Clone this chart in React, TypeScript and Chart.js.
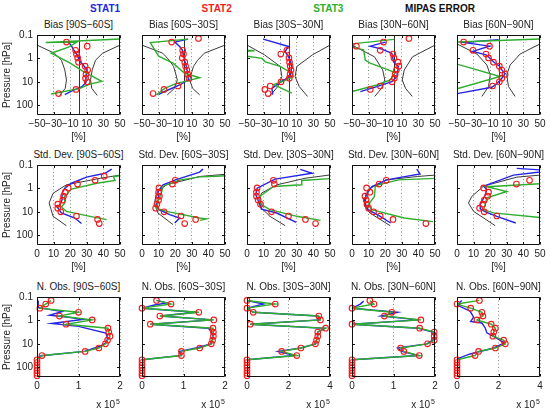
import React, { useEffect, useRef } from "react";
import { Chart, registerables } from "chart.js";

Chart.register(...registerables);

const FONT = '"Liberation Sans", Arial, Helvetica, sans-serif';
Chart.defaults.font.family = FONT;
Chart.defaults.font.size = 10;
Chart.defaults.color = "#222";

const BLUE = "#2424e6";
const RED = "#f01c1c";
const GREEN = "#2eae2e";
const BLACK = "#3a3a3a";

// ---------- shared axes / categories ----------
const LEVELS = [0.14, 0.2, 0.3, 0.45, 0.65, 0.95, 1.45, 2.15, 3.15, 4.7, 7, 10, 15, 21, 31.5, 48, 63, 82, 106, 137, 178, 230];
const BANDS = ["90S\u221260S", "60S\u221230S", "30S\u221230N", "30N\u221260N", "60N\u221290N"];
const ROW_NAMES = ["Bias", "Std. Dev.", "N. Obs."];
const BIAS_TICKS = [-50, -30, -10, 10, 30, 50];
const STD_TICKS = [0, 10, 20, 30, 40, 50];
const NOBS_TICKS_2 = [0, 1, 2];
const NOBS_TICKS_4 = [0, 2, 4];
const P_TICKS = [0.1, 1, 10, 100];
const P_MIN = 0.1;
const P_MAX = 260;
const LEGEND = [
  { text: "STAT1", color: BLUE },
  { text: "STAT2", color: RED },
  { text: "STAT3", color: GREEN },
  { text: "MIPAS ERROR", color: "#111" },
];

type Pt = [number, number] | null; // [value, pressure]
type Err = [number, number]; // [pressure, error]

// ---------- Bias [%] ----------
const bias1Red = [null, -14.5, 10.5, -3.5, -2.5, -1, 0, 8, 11, 9, 8.5, 10.5, null, -3, -24];
const bias1Blue: Pt[] = [[-12.5, 0.19], [-8.5, 0.29], [-5.6, 0.44], [-1.6, 0.71], [0.8, 1.17], [5.6, 1.91], [10.5, 3.1], [8.9, 6], [8.9, 10.9], [3.6, 16.5], [-8.5, 25], [-16.5, 35]];
const bias1Green: Pt[] = [[55, 0.145], [-39.5, 0.21], [-2, 0.2], [-12, 0.33], [-33, 0.6], [-10, 1.6], [5, 3.5], [28, 9.5], [12, 13], [2, 19], [-33, 33]];
const bias1Err: Err[] = [[0.15, 70], [0.27, 50], [0.6, 29], [1.2, 20.5], [3.1, 16.5], [8.3, 14.5], [19, 16], [38, 22.6]];

const bias2Red = [18, -14.3, null, -1, 0, -1.5, 1.5, 2.5, 4, 5, 6.5, null, -6.6, -23.5, -36.7];
const bias2Blue: Pt[] = [[5.5, 0.15], [-10.6, 0.2], [-4.6, 0.31], [-1.4, 0.44], [0.2, 0.84], [3.4, 2.25], [5.4, 5.1], [5.8, 8.3], [-4.6, 13.6], [-20.7, 24], [-30, 34]];
const bias2Green: Pt[] = [[5.5, 0.15], [-40, 0.21], [-30, 0.8], [-12.6, 1.6], [1.4, 4.3], [19.5, 6.7], [3.4, 9.3], [-8.6, 11.6], [-22.6, 18.9], [-32.6, 36]];
const bias2Err: Err[] = [[0.2, 65], [0.27, 50], [0.6, 25], [1.2, 17], [2.2, 12], [5, 9], [8.3, 7.5], [19, 11], [36, 19.5]];

const bias3Red = [null, null, null, -2, -9.3, 0.5, 1.2, 2, 3, 2, 1, -9, -22, -28.5, -24.5];
const bias3Blue: Pt[] = [[-30.5, 0.15], [0, 0.31], [-4, 0.5], [2, 1.17], [4, 2.25], [2, 6], [-8, 9.3], [-20, 18.9], [-19, 35]];
const bias3Green: Pt[] = [[-60, 0.42], [-41, 0.47], [-60, 0.52], null, [-51, 0.8], [-32, 1.0], [-28, 1.4], [-10, 2.2], [4, 4.3], [6, 6], [-6, 9.3], [-18, 13], [4, 30]];
const bias3Err: Err[] = [[0.2, 65], [0.27, 50], [0.7, 29], [2.2, 10], [6, 8], [16, 13], [42, 23]];

const bias4Red = [18.6, -12, -44.7, -16, -0.6, 0.5, 5.5, 6.5, 3.5, 2, 1, -1.8, -16, -28, null];
const bias4Blue: Pt[] = [[-10, 0.2], [-28, 0.3], [-14, 0.4], [-2, 0.6], [0, 1.37], [6, 2.25], [4, 6], [-2, 9.8], [-20, 16], [-40, 26]];
const bias4Green: Pt[] = [[-60, 0.26], [0.5, 0.153], null, [-55, 0.3], [-36, 0.43], [-34, 1.17], [-28, 1.6], [-12, 2.6], [2, 4], [-4, 8.3], [-20, 13.6], [-50, 26]];
const bias4Err: Err[] = [[0.2, 65], [0.27, 50], [0.85, 23], [3.1, 13], [8.3, 10.5], [19, 14.5], [42, 22.6]];

const bias5Red = [null, -42, -10.8, -30.8, -15, -12, -6, 1, 4, 8, 4, 1, -7.2, null, null];
const bias5Blue: Pt[] = [[0, 0.158], [-42, 0.21], [-11, 0.3], [-31, 0.5], [-15, 0.7], [-10, 1.0], [-5, 1.5], [1, 2.1], [4, 3.1], [8, 4.5], [4, 7], [-2, 12], [-8, 17], [-50, 32]];
const bias5Green: Pt[] = [[-50, 0.2], [50, 0.148], null, [-50, 1.75], [2, 5.9], [-50, 19.8]];
const bias5Err: Err[] = [[0.2, 60], [0.24, 50], [0.65, 26], [1.9, 14], [5, 10], [15.8, 12], [42, 20]];

// ---------- Std. Dev. [%] ----------
const std1Red = [null, null, 40.5, 35, 24.4, 18.8, 17, 16, 15.5, 12.5, 12.5, 14.3, 23.8, 36.5, 37.5];
const std1Blue: Pt[] = [[45, 0.15], [41, 0.226], [29.8, 0.33], [20.8, 0.6], [16.7, 0.98], [15.1, 1.6], [15.1, 3.05], [13.7, 5], [12.1, 6.2], [14.7, 11.2], [22.8, 18.3], [26.8, 31.6]];
const std1Green: Pt[] = [[55, 0.26], [46, 0.31], [47, 0.46], [36, 0.6], [20.8, 1.07], [16.7, 2.2], [16.7, 4.2], [14.7, 6.2], [17.7, 9.5], [31.9, 15.5], [42, 21.5]];
const std1Err: Err[] = [[0.22, 60], [0.27, 50], [0.37, 38], [0.7, 17.7], [1.6, 9.7], [4.2, 7.3], [15.5, 9.7], [39, 17.7]];

const std2Red = [null, null, null, 20, 18.3, 10.2, 10, 10.5, 10, 9, 8.2, 13.3, 23.5, 32.3, 25.7];
const std2Blue: Pt[] = [[36.7, 0.15], [34.7, 0.2], [20.7, 0.42], [12.7, 0.7], [9.6, 1.35], [10.2, 2.6], [8.6, 4.96], [10.2, 8.1], [16.7, 13.2], [22.7, 18.3], [19.7, 29.8]];
const std2Green: Pt[] = [[55, 0.28], [44.8, 0.3], [34.7, 0.32], [22.7, 0.44], [12.7, 0.8], [11.6, 1.6], [9.6, 3.6], [8.6, 6.9], [14.7, 9.5], [34.7, 18.3], [38.8, 20], [35, 23]];
const std2Err: Err[] = [[0.2, 65], [0.25, 50], [0.31, 34.7], [0.7, 14.7], [1.6, 8.6], [4.2, 7.6], [11.2, 9.6], [35, 18.7]];

const std3Red = [null, null, null, 15.9, 16.5, 6.1, 5.7, 5.7, 6.7, 8.1, null, 14.8, 25, 35.2, 41.3];
const std3Blue: Pt[] = [[32.1, 0.153], [39.2, 0.226], [16.9, 0.4], [6.1, 0.98], [5.3, 1.87], [7.3, 4.2], [8.7, 7.6], [17.9, 11.2], [29.7, 28]];
const std3Green: Pt[] = [[55, 0.36], [33, 0.46], [33, 0.7], [15.9, 0.83], [7.7, 2.2], [8.7, 4.96], [13.8, 8.1], [30, 15.5], [44.3, 23]];
const std3Err: Err[] = [[0.2, 65], [0.266, 50], [0.368, 35], [0.705, 17.9], [1.59, 8.7], [3.05, 7.7], [6.9, 8.7], [15.5, 13.8], [39, 23]];

const std4Red = [null, null, null, 20.6, 16.3, 8.8, 10.8, 7.8, 8.5, 9, 10, 13, 17, 24.7, 44.5];
const std4Blue: Pt[] = [[39, 0.15], [41, 0.24], [30, 0.33], [21, 0.43], [12, 0.83], [8.4, 1.87], [7.8, 4.2], [9.8, 8.1], [17, 15.5], [23.3, 30]];
const std4Green: Pt[] = [[55, 0.36], [28, 0.43], [16, 0.7], [14, 0.85], [13.5, 2.2], [9.8, 4.96], [11.8, 8.1], [31.4, 18.3], [48.8, 26]];
const std4Err: Err[] = [[0.2, 65], [0.27, 50], [0.31, 39.4], [0.43, 21], [1.0, 10.8], [2.6, 7.8], [5.8, 7.8], [11.2, 10.8], [39, 23]];

const std5Red = [null, null, null, 43.7, 35.8, 16, 19, 18.4, 16.5, 15.5, 13.6, 16.4, 24, null, null];
const std5Blue: Pt[] = [[36, 0.14], [55, 0.17], [50, 0.2], [34, 0.27], [16, 0.8], [18, 1.1], [17, 1.87], [14, 5], [14, 7.5], [17.2, 10], [24, 15.5], [35.4, 30]];
const std5Green: Pt[] = [[55, 0.6], [18, 0.85], [30, 1.35], [18, 2.5], [17, 5], [16, 8], [22, 11], [50, 17.5], [55, 18.3]];
const std5Err: Err[] = [[0.2, 65], [0.27, 50], [0.33, 36], [0.8, 16], [2.2, 8.9], [4.2, 6.9], [9.5, 10], [39, 23]];

// ---------- N. Obs. [x 10^5] ----------
const nobs1Red = [0.34, 0.21, 0.07, 1.0, 0.54, 1.33, 0.7, 1.71, 1.73, 1.76, 1.7, 1.65, 1.49, 1.16, 0.12, 0, 0, 0, 0, 0, 0, 0];
const nobs1Blue: Pt[] = [[0.03, 0.14], [0.03, 0.28], [0.6, 0.42], [0.3, 0.6], [0.8, 0.75], [1.1, 0.9], [0.35, 1.35], [1.0, 1.8], [1.66, 3.5], [1.7, 6], [1.66, 9], [1.5, 13], [1.14, 21], [0.1, 32], [0, 40]];
const nobs2Red = [0.35, 0.7, 0, 1.37, 0.43, 1.73, 0.2, 1.71, 1.72, 1.72, 1.7, 1.67, 1.39, 0.95, 0.95, 0, 0, 0, 0, 0, 0, 0];
const nobs2Blue: Pt[] = [[0.35, 0.14], [0.6, 0.18], [0.3, 0.22], [0, 0.3], [1.3, 0.45], [0.45, 0.65], [1.7, 0.95], [0.2, 1.45], [1.6, 2.15], [1.68, 3.2], [1.72, 5], [1.66, 10], [1.3, 15], [0.9, 21], [0.95, 31.5], [0, 48]];
const nobs3Red = [0, 1.36, 0, 0.3, 3.46, 3.54, 0.16, 3.79, 3.41, 3.41, 3.35, 3.3, 2.6, 1.67, 2.4, 0, 0, 0, 0, 0, 0, 0];
const nobs3Blue: Pt[] = [[0, 0.14], [0.8, 0.2], [0, 0.3], [0.3, 0.45], [3.4, 0.65], [3.5, 0.95], [0.16, 1.45], [3.75, 2.15], [3.4, 3.15], [3.4, 4.7], [3.35, 7], [3.3, 10], [2.6, 15], [1.5, 21], [2.3, 31.5], [0, 48]];
const nobs4Red = [0.43, 0.53, 0, 0.96, 0.78, 1.66, 0, 1.63, 1.98, 1.98, 1.98, 1.82, 1.17, 1.25, 1.62, 0, 0, 0, 0, 0, 0, 0];
const nobs4Blue: Pt[] = [[0.28, 0.15], [0.2, 0.2], [0, 0.3], [1.1, 0.45], [0.7, 0.65], [1.6, 0.95], [0, 1.45], [1.6, 2.15], [1.95, 3.15], [1.98, 4.7], [1.95, 7], [1.8, 10], [1.1, 15], [1.2, 21], [1.6, 31.5], [0, 48]];
const nobs5Red = [1.08, 0, 0.66, 1.2, 1.25, 0.96, 1.65, 1.85, 1.77, 1.73, 2.25, 2.33, 1.85, 1.04, 0.87, 0, 0, 0, 0, 0, 0, 0];
const nobs5Blue: Pt[] = [[0.23, 0.14], [0, 0.22], [0.63, 0.4], [0.8, 0.73], [0.66, 1.1], [1.2, 1.29], [1.36, 2.1], [1.44, 3.4], [1.85, 5.3], [2.28, 9.2], [1.77, 15], [0.63, 27], [0, 44]];

// ---------- layout ----------
const COL_LEFT = [37, 142, 247, 352, 457];
const ROW_TOP = [35, 165, 297];
const BOX_W = 83;
const BOX_H = 80;
const Y_AXIS_W = 36;
const PAD_T = 8;
const PAD_R = 12;
const X_AXIS_H = 30;

type Kind = "bias" | "std" | "nobs";
interface PanelSpec {
  row: number;
  col: number;
  kind: Kind;
  blue: Pt[];
  red: (number | null)[];
  green: Pt[] | null; // null -> same as red levels
  err: Err[] | null;
  xmax: number;
  xmin: number;
  xticks: number[];
}

const PANELS: PanelSpec[] = [
  { row: 0, col: 0, kind: "bias", blue: bias1Blue, red: bias1Red, green: bias1Green, err: bias1Err, xmin: -50, xmax: 50, xticks: BIAS_TICKS },
  { row: 0, col: 1, kind: "bias", blue: bias2Blue, red: bias2Red, green: bias2Green, err: bias2Err, xmin: -50, xmax: 50, xticks: BIAS_TICKS },
  { row: 0, col: 2, kind: "bias", blue: bias3Blue, red: bias3Red, green: bias3Green, err: bias3Err, xmin: -50, xmax: 50, xticks: BIAS_TICKS },
  { row: 0, col: 3, kind: "bias", blue: bias4Blue, red: bias4Red, green: bias4Green, err: bias4Err, xmin: -50, xmax: 50, xticks: BIAS_TICKS },
  { row: 0, col: 4, kind: "bias", blue: bias5Blue, red: bias5Red, green: bias5Green, err: bias5Err, xmin: -50, xmax: 50, xticks: BIAS_TICKS },
  { row: 1, col: 0, kind: "std", blue: std1Blue, red: std1Red, green: std1Green, err: std1Err, xmin: 0, xmax: 50, xticks: STD_TICKS },
  { row: 1, col: 1, kind: "std", blue: std2Blue, red: std2Red, green: std2Green, err: std2Err, xmin: 0, xmax: 50, xticks: STD_TICKS },
  { row: 1, col: 2, kind: "std", blue: std3Blue, red: std3Red, green: std3Green, err: std3Err, xmin: 0, xmax: 50, xticks: STD_TICKS },
  { row: 1, col: 3, kind: "std", blue: std4Blue, red: std4Red, green: std4Green, err: std4Err, xmin: 0, xmax: 50, xticks: STD_TICKS },
  { row: 1, col: 4, kind: "std", blue: std5Blue, red: std5Red, green: std5Green, err: std5Err, xmin: 0, xmax: 50, xticks: STD_TICKS },
  { row: 2, col: 0, kind: "nobs", blue: nobs1Blue, red: nobs1Red, green: null, err: null, xmin: 0, xmax: 2, xticks: NOBS_TICKS_2 },
  { row: 2, col: 1, kind: "nobs", blue: nobs2Blue, red: nobs2Red, green: null, err: null, xmin: 0, xmax: 2, xticks: NOBS_TICKS_2 },
  { row: 2, col: 2, kind: "nobs", blue: nobs3Blue, red: nobs3Red, green: null, err: null, xmin: 0, xmax: 4, xticks: NOBS_TICKS_4 },
  { row: 2, col: 3, kind: "nobs", blue: nobs4Blue, red: nobs4Red, green: null, err: null, xmin: 0, xmax: 2, xticks: NOBS_TICKS_2 },
  { row: 2, col: 4, kind: "nobs", blue: nobs5Blue, red: nobs5Red, green: null, err: null, xmin: 0, xmax: 4, xticks: NOBS_TICKS_4 },
];

const toXY = (pts: Pt[]) => pts.map((p) => (p ? { x: p[0], y: p[1] } : { x: null, y: null }));
const levelXY = (vals: (number | null)[]) =>
  vals.map((v, i) => (v === null ? null : { x: v, y: LEVELS[i] })).filter((d) => d !== null);
const fmtX = (v: number) => (v < 0 ? "\u2212" + Math.abs(v) : String(v));

function framePlugin(spec: PanelSpec) {
  return {
    id: "frame" + spec.row + spec.col,
    beforeDatasetsDraw(chart: any) {
      if (spec.kind !== "bias") return;
      const { ctx, chartArea: a, scales } = chart;
      const x = Math.round(scales.x.getPixelForValue(0)) + 0.5;
      ctx.save();
      ctx.strokeStyle = "#333";
      ctx.lineWidth = 1;
      ctx.beginPath();
      ctx.moveTo(x, a.top);
      ctx.lineTo(x, a.bottom);
      ctx.stroke();
      ctx.restore();
    },
    afterDraw(chart: any) {
      const { ctx, chartArea: a, scales } = chart;
      ctx.save();
      ctx.strokeStyle = "#111";
      ctx.lineWidth = 1;
      ctx.beginPath();
      const L = a.left + 0.5, R = a.right - 0.5, T = a.top + 0.5, B = a.bottom - 0.5;
      ctx.rect(L, T, R - L, B - T);
      const tl = 2.5;
      spec.xticks.forEach((v) => {
        const x = Math.round(scales.x.getPixelForValue(v)) + 0.5;
        ctx.moveTo(x, B); ctx.lineTo(x, B - tl);
        ctx.moveTo(x, T); ctx.lineTo(x, T + tl);
      });
      P_TICKS.forEach((v) => {
        const y = Math.round(scales.y.getPixelForValue(v)) + 0.5;
        ctx.moveTo(L, y); ctx.lineTo(L + tl, y);
        ctx.moveTo(R, y); ctx.lineTo(R - tl, y);
      });
      ctx.stroke();
      ctx.restore();
    },
  };
}

function Panel({ spec }: { spec: PanelSpec }) {
  const ref = useRef<HTMLCanvasElement | null>(null);
  const boxL = COL_LEFT[spec.col];
  const boxT = ROW_TOP[spec.row];
  const cw = Y_AXIS_W + BOX_W + PAD_R;
  const ch = PAD_T + BOX_H + X_AXIS_H;

  useEffect(() => {
    const lineDs = (data: any[], color: string, width: number, order: number) => ({
      data,
      showLine: true,
      borderColor: color,
      backgroundColor: color,
      borderWidth: width,
      pointRadius: 0,
      pointHoverRadius: 0,
      spanGaps: false,
      order,
    });
    const datasets: any[] = [];
    if (spec.err) {
      if (spec.kind === "bias") {
        datasets.push(lineDs(spec.err.map(([p, e]) => ({ x: -e, y: p })), BLACK, 1, 5));
        datasets.push(lineDs(spec.err.map(([p, e]) => ({ x: e, y: p })), BLACK, 1, 5));
      } else {
        datasets.push(lineDs(spec.err.map(([p, e]) => ({ x: e, y: p })), BLACK, 1, 5));
      }
    }
    datasets.push(lineDs(toXY(spec.blue), BLUE, 1.4, 3));
    const greenData = spec.green ? toXY(spec.green) : levelXY(spec.red);
    datasets.push(lineDs(greenData, GREEN, 1.4, 2));
    datasets.push({
      data: levelXY(spec.red),
      showLine: false,
      pointStyle: "circle",
      pointRadius: 2.8,
      pointHoverRadius: 2.8,
      pointBorderWidth: 1.1,
      borderColor: RED,
      pointBorderColor: RED,
      backgroundColor: "rgba(0,0,0,0)",
      pointBackgroundColor: "rgba(0,0,0,0)",
      clip: 6,
      order: 1,
    });

    const first = spec.col === 0;
    const chart = new Chart(ref.current as HTMLCanvasElement, {
      type: "scatter",
      data: { datasets },
      options: {
        animation: false,
        responsive: false,
        maintainAspectRatio: false,
        events: [],
        layout: { autoPadding: false, padding: { left: 0, top: PAD_T, right: PAD_R, bottom: 0 } },
        plugins: { legend: { display: false }, tooltip: { enabled: false }, title: { display: false } },
        scales: {
          x: {
            type: "linear",
            position: "bottom",
            min: spec.xmin,
            max: spec.xmax,
            afterBuildTicks: (s: any) => {
              s.ticks = spec.xticks.map((v) => ({ value: v }));
            },
            afterFit: (s: any) => {
              s.height = X_AXIS_H;
              s.paddingLeft = 0; s.paddingRight = 0; s.paddingTop = 0; s.paddingBottom = 0;
            },
            ticks: {
              autoSkip: false,
              maxRotation: 0,
              minRotation: 0,
              padding: 3,
              color: "#222",
              font: { size: 10, family: FONT },
              callback: (v: any) => fmtX(Number(v)),
            },
            grid: { display: true, drawTicks: false, color: "#8c8c8c", lineWidth: 1 },
            border: { display: false, dash: [1, 2.5] },
            title: {
              display: spec.kind !== "nobs",
              text: "[%]",
              color: "#222",
              padding: { top: 0, bottom: 2 },
              font: { size: 10, family: FONT },
            },
          },
          y: {
            type: "logarithmic",
            position: "left",
            reverse: true,
            min: P_MIN,
            max: P_MAX,
            afterBuildTicks: (s: any) => {
              s.ticks = P_TICKS.map((v) => ({ value: v }));
            },
            afterFit: (s: any) => {
              s.width = Y_AXIS_W;
              s.paddingLeft = 0; s.paddingRight = 0; s.paddingTop = 0; s.paddingBottom = 0;
            },
            ticks: {
              display: first,
              autoSkip: false,
              padding: 4,
              color: "#222",
              font: { size: 10, family: FONT },
              callback: (v: any) => String(v),
            },
            grid: { display: false, drawTicks: false },
            border: { display: false },
            title: {
              display: first,
              text: "Pressure [hPa]",
              color: "#222",
              padding: { top: 0, bottom: 0 },
              font: { size: 10, family: FONT },
            },
          },
        },
      } as any,
      plugins: [framePlugin(spec)],
    });
    return () => chart.destroy();
  }, []);

  return (
    <>
      <div
        style={{
          position: "absolute",
          left: boxL + BOX_W / 2 - 70,
          width: 140,
          top: boxT - 16.5,
          height: 12,
          lineHeight: "12px",
          textAlign: "center",
          fontSize: 10,
          color: "#222",
          whiteSpace: "nowrap",
        }}
      >
        {ROW_NAMES[spec.row] + " [" + BANDS[spec.col] + "]"}
      </div>
      <canvas
        ref={ref}
        width={cw}
        height={ch}
        style={{ position: "absolute", left: boxL - Y_AXIS_W, top: boxT - PAD_T, width: cw, height: ch }}
      />
      {spec.kind === "nobs" && (
        <div
          style={{
            position: "absolute",
            left: boxL + BOX_W - 60,
            width: 60,
            top: boxT + BOX_H + 22,
            height: 12,
            lineHeight: "12px",
            textAlign: "right",
            fontSize: 10,
            color: "#222",
            whiteSpace: "nowrap",
          }}
        >
          x 10
          <span style={{ fontSize: 7, position: "relative", top: -4, marginLeft: 1 }}>5</span>
        </div>
      )}
    </>
  );
}

const LEGEND_X = [105, 216.7, 328.3, 440];

export default function App() {
  return (
    <div
      style={{
        position: "absolute",
        left: 0,
        top: 0,
        width: 551,
        height: 417,
        background: "#fff",
        overflow: "hidden",
        fontFamily: FONT,
      }}
    >
      {LEGEND.map((l, i) => (
        <div
          key={l.text}
          style={{
            position: "absolute",
            left: LEGEND_X[i] - 50,
            width: 100,
            top: 3.3,
            height: 12,
            lineHeight: "12px",
            textAlign: "center",
            fontSize: 10,
            fontWeight: "bold",
            color: l.color,
          }}
        >
          {l.text}
        </div>
      ))}
      {PANELS.map((p) => (
        <Panel key={p.row + "-" + p.col} spec={p} />
      ))}
    </div>
  );
}
